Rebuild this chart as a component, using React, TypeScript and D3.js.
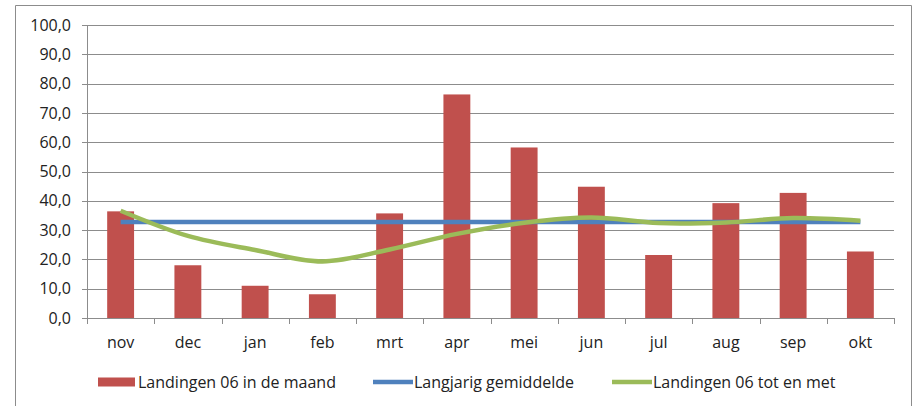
import { useEffect, useRef } from 'react';
import * as d3 from 'd3';

const months = ['nov', 'dec', 'jan', 'feb', 'mrt', 'apr', 'mei', 'jun', 'jul', 'aug', 'sep', 'okt'];
const landingenMaand = [36.4, 18.0, 11.0, 8.1, 35.7, 76.3, 58.2, 44.8, 21.5, 39.2, 42.7, 22.7];
const langjarig = [32.8, 32.8, 32.8, 32.8, 32.8, 32.8, 32.8, 32.8, 32.8, 32.8, 32.8, 32.8];
const landingenTotEnMet = [36.6, 28.0, 23.2, 19.3, 23.4, 28.7, 32.5, 34.3, 32.4, 32.6, 34.1, 33.2];
const yTicks = [0, 10, 20, 30, 40, 50, 60, 70, 80, 90, 100];
const legendLabels = ['Landingen 06 in de maand', 'Langjarig gemiddelde', 'Landingen 06 tot en met'];

const RED = '#c0504d';
const BLUE = '#4f81bd';
const GREEN = '#9bbb59';
const GRID = '#8c8c8c';
const FONT = '"Open Sans", sans-serif';
const FONT_SIZE = 16;

export default function App() {
  const svgRef = useRef(null);

  useEffect(() => {
    const svg = d3.select(svgRef.current);
    const width = 912;
    const height = 406;
    const margin = { top: 25, right: 18, bottom: 88, left: 87 };

    svg.attr('viewBox', `0 0 ${width} ${height}`);
    svg.selectAll('*').remove();

    // chart frame
    svg
      .append('path')
      .attr('d', `M15.5,${height} V5.5 H911.5 V${height}`)
      .attr('fill', 'none')
      .attr('stroke', '#8c8c8c');

    const x = d3
      .scaleBand()
      .domain(months)
      .range([margin.left, width - margin.right])
      .paddingInner(0.6)
      .paddingOuter(0.3);
    const xCenter = (m) => x(m) + x.bandwidth() / 2;
    const step = x.step();
    const y = d3
      .scaleLinear()
      .domain([0, 100])
      .range([height - margin.bottom, margin.top]);

    // gridlines
    svg
      .append('g')
      .selectAll('line')
      .data(yTicks)
      .join('line')
      .attr('x1', margin.left - 5)
      .attr('x2', width - margin.right)
      .attr('y1', (d) => Math.round(y(d)) + 0.5)
      .attr('y2', (d) => Math.round(y(d)) + 0.5)
      .attr('stroke', GRID)
      .attr('stroke-width', 1);

    // y axis line
    svg
      .append('line')
      .attr('x1', margin.left + 0.5)
      .attr('x2', margin.left + 0.5)
      .attr('y1', y(100))
      .attr('y2', y(0))
      .attr('stroke', GRID);

    // x ticks at category boundaries
    const boundaries = d3.range(months.length + 1).map((i) => margin.left + i * step);
    svg
      .append('g')
      .selectAll('line')
      .data(boundaries)
      .join('line')
      .attr('x1', (d) => Math.round(d) + 0.5)
      .attr('x2', (d) => Math.round(d) + 0.5)
      .attr('y1', y(0))
      .attr('y2', y(0) + 6)
      .attr('stroke', GRID);

    // y labels
    svg
      .append('g')
      .selectAll('text')
      .data(yTicks)
      .join('text')
      .attr('x', margin.left - 16)
      .attr('y', (d) => y(d))
      .attr('dy', '0.35em')
      .attr('text-anchor', 'end')
      .attr('font-family', FONT)
      .attr('font-size', FONT_SIZE)
      .attr('fill', '#222')
      .text((d) => d3.format('.1f')(d).replace('.', ','));

    // x labels
    svg
      .append('g')
      .selectAll('text')
      .data(months)
      .join('text')
      .attr('x', (d) => xCenter(d))
      .attr('y', y(0) + 30)
      .attr('text-anchor', 'middle')
      .attr('font-family', FONT)
      .attr('font-size', FONT_SIZE)
      .attr('fill', '#222')
      .text((d) => d);

    // bars
    svg
      .append('g')
      .selectAll('rect')
      .data(landingenMaand)
      .join('rect')
      .attr('x', (d, i) => x(months[i]))
      .attr('width', x.bandwidth())
      .attr('y', (d) => y(d))
      .attr('height', (d) => y(0) - y(d))
      .attr('fill', RED);

    // long-term average
    const flat = d3
      .line()
      .x((d, i) => xCenter(months[i]))
      .y((d) => y(d));
    svg
      .append('path')
      .datum(langjarig)
      .attr('fill', 'none')
      .attr('stroke', BLUE)
      .attr('stroke-width', 4.5)
      .attr('d', flat);

    // cumulative, smoothed
    const smooth = d3
      .line()
      .x((d, i) => xCenter(months[i]))
      .y((d) => y(d))
      .curve(d3.curveCatmullRom.alpha(0.5));
    svg
      .append('path')
      .datum(landingenTotEnMet)
      .attr('fill', 'none')
      .attr('stroke', GREEN)
      .attr('stroke-width', 4.5)
      .attr('stroke-linejoin', 'round')
      .attr('d', smooth);

    // legend
    const ly = 382;
    const legend = svg.append('g').attr('font-family', FONT).attr('font-size', FONT_SIZE).attr('fill', '#222');
    legend.append('rect').attr('x', 98).attr('y', ly - 4.5).attr('width', 37).attr('height', 9).attr('fill', RED);
    legend.append('text').attr('x', 138).attr('y', ly).attr('dy', '0.35em').text(legendLabels[0]);
    legend
      .append('line')
      .attr('x1', 373)
      .attr('x2', 413)
      .attr('y1', ly)
      .attr('y2', ly)
      .attr('stroke', BLUE)
      .attr('stroke-width', 4.5);
    legend.append('text').attr('x', 414).attr('y', ly).attr('dy', '0.35em').text(legendLabels[1]);
    legend
      .append('line')
      .attr('x1', 612)
      .attr('x2', 652)
      .attr('y1', ly)
      .attr('y2', ly)
      .attr('stroke', GREEN)
      .attr('stroke-width', 4.5);
    legend.append('text').attr('x', 653).attr('y', ly).attr('dy', '0.35em').text(legendLabels[2]);
  }, []);

  return (
    <div style={{ position: 'fixed', left: 0, top: 0 }}>
      <svg ref={svgRef} width={912} height={406} style={{ display: 'block', background: '#fff' }}></svg>
    </div>
  );
}
